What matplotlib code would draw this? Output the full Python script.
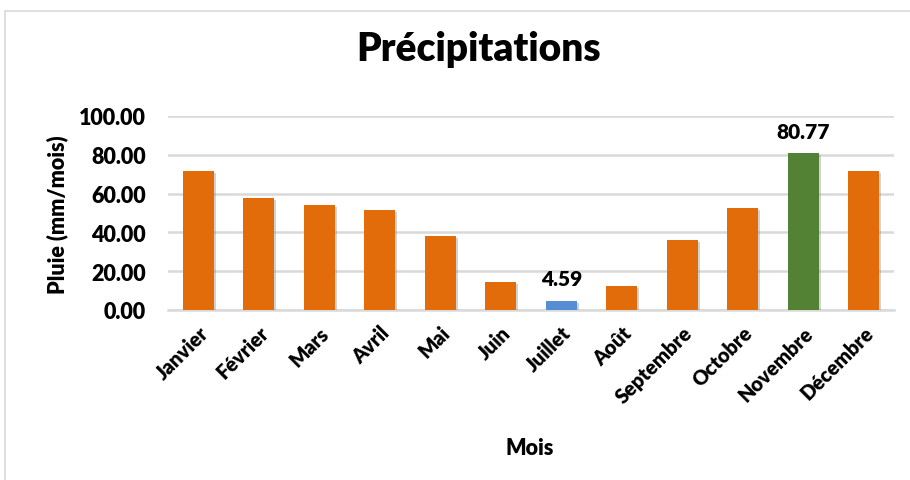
import matplotlib
matplotlib.use("Agg")
import matplotlib.pyplot as plt
from matplotlib.patches import Rectangle
import matplotlib.patheffects as pe

plt.rcParams['font.family'] = ['Lato', 'DejaVu Sans']
W8 = "heavy"

months = ["Janvier", "Février", "Mars", "Avril", "Mai", "Juin", "Juillet",
          "Août", "Septembre", "Octobre", "Novembre", "Décembre"]
rain = [71.6, 57.7, 54.1, 51.5, 38.1, 14.4, 4.59, 12.4, 36.1, 52.6, 80.77, 71.6]
yticks = [0, 20, 40, 60, 80, 100]

orange = "#E36C0A"
blue = "#558ED5"
green = "#548235"
colors = [orange] * len(months)
imin = rain.index(min(rain))
imax = rain.index(max(rain))
colors[imin] = blue
colors[imax] = green

W, H = 910, 481
fig = plt.figure(figsize=(W / 100, H / 100), dpi=100)
fig.patch.set_facecolor("white")

# chart-area frame
fig.patches.append(Rectangle((5 / W, -0.1), 1.1, (H - 12) / H + 0.1,
                             transform=fig.transFigure, fill=False,
                             edgecolor="#D9D9D9", linewidth=1.2))

ax = fig.add_axes([168 / W, 1 - 311 / H, (894 - 168) / W, (311 - 117) / H])
x = list(range(len(months)))
bars = ax.bar(x, rain, width=0.51, color=colors, zorder=3)
for b in bars:
    b.set_path_effects([pe.SimplePatchShadow(offset=(1.5, -1.5), shadow_rgbFace="#7F7F7F", alpha=0.35),
                        pe.Normal()])

ax.set_xlim(-0.5, len(months) - 0.5)
ax.set_ylim(0, 100)
ax.set_yticks(yticks)
ax.set_yticklabels([f"{v:.2f}" for v in yticks], fontsize=15.5, fontweight=W8)
ax.yaxis.grid(True, color="#D9D9D9", linewidth=1.8, zorder=0)
ax.set_axisbelow(True)
for s in ["top", "right", "left"]:
    ax.spines[s].set_visible(False)
ax.spines["bottom"].set_color("#D9D9D9")
ax.spines["bottom"].set_linewidth(1.8)
ax.tick_params(axis="both", length=0)
ax.tick_params(axis="y", pad=16)

ax.set_xticks(x)
ax.set_xticklabels(months, rotation=45, ha="right", rotation_mode="anchor",
                   fontsize=14.5, fontweight=W8)
ax.tick_params(axis="x", pad=9)

for i in (imin, imax):
    ax.text(i, rain[i] + 6.5, f"{rain[i]:.2f}", ha="center", va="bottom",
            fontsize=15, fontweight=W8, zorder=4)

fig.text(479 / W, 1 - 50 / H, "Précipitations", ha="center", va="center",
         fontsize=28, fontweight=W8)
fig.text(530 / W, 1 - 449 / H, "Mois", ha="center", va="center",
         fontsize=15.5, fontweight=W8)
fig.text(57 / W, 1 - 215 / H, "Pluie (mm/mois)", ha="center", va="center",
         rotation=90, fontsize=15.5, fontweight=W8)

fig.savefig("out.png", dpi=100)
